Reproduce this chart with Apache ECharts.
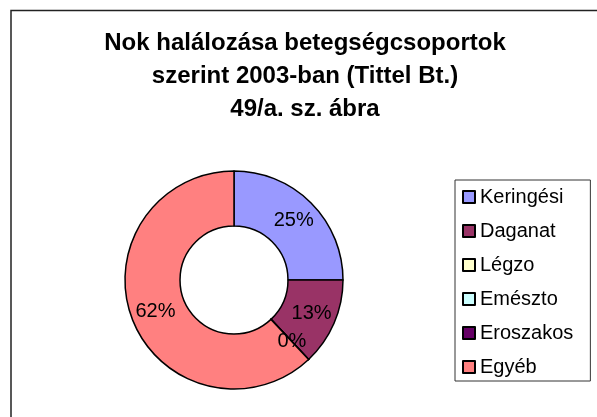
<!DOCTYPE html>
<html>
<head>
<meta charset="utf-8">
<script src="https://cdn.jsdelivr.net/npm/echarts@6/dist/echarts.min.js"></script>
<style>
  html, body { margin: 0; padding: 0; background: #fff; }
  #chart { width: 597px; height: 417px; }
</style>
</head>
<body>
<div id="chart"></div>
<script>
// Disease groups and their share (%) of female deaths, 2003
const categories = ['Keringési', 'Daganat', 'Légzo', 'Emészto', 'Eroszakos', 'Egyéb'];
const shares = [25, 13, 0, 0, 0, 62];
const colors = ['#9999FF', '#993366', '#FFFFCC', '#CCFFFF', '#660066', '#FF8080'];
const titleLines = ['Nok halálozása betegségcsoportok', 'szerint 2003-ban (Tittel Bt.)', '49/a. sz. ábra'];

const FONT = '"Liberation Sans", Arial, sans-serif';

const chart = echarts.init(document.getElementById('chart'), null, { renderer: 'canvas' });

chart.setOption({
  backgroundColor: '#fff',
  animation: false,
  color: colors,
  title: {
    text: titleLines.join('\n'),
    left: 305,
    textAlign: 'center',
    top: 27,
    padding: 0,
    textStyle: {
      fontFamily: FONT,
      fontSize: 24,
      fontWeight: 'bold',
      color: '#000',
      lineHeight: 33
    }
  },
  legend: {
    orient: 'vertical',
    left: 455,
    top: 180,
    padding: [7, 17, 4, 7],
    itemGap: 14,
    itemWidth: 12,
    itemHeight: 12,
    icon: 'rect',
    borderColor: '#333',
    borderWidth: 1,
    backgroundColor: '#fff',
    data: categories,
    itemStyle: { borderColor: '#000', borderWidth: 2 },
    textStyle: {
      fontFamily: FONT,
      fontSize: 20,
      color: '#000',
      lineHeight: 20
    }
  },
  graphic: [
    {
      type: 'polyline',
      shape: { points: [[11, 417], [11, 10.5], [597, 10.5]] },
      style: { stroke: '#222', lineWidth: 1.5, fill: null }
    }
  ],
  series: [
    {
      type: 'pie',
      center: [234, 280],
      radius: [54, 109],
      startAngle: 90,
      clockwise: true,
      avoidLabelOverlap: false,
      percentPrecision: 0,
      itemStyle: { borderColor: '#000', borderWidth: 1.5 },
      label: {
        show: true,
        position: 'inside',
        formatter: '{d}%',
        fontFamily: FONT,
        fontSize: 20,
        color: '#000'
      },
      labelLine: { show: false },
      emphasis: { disabled: true },
      data: categories.map((name, i) => ({ name: name, value: shares[i] }))
    }
  ]
});
</script>
</body>
</html>
